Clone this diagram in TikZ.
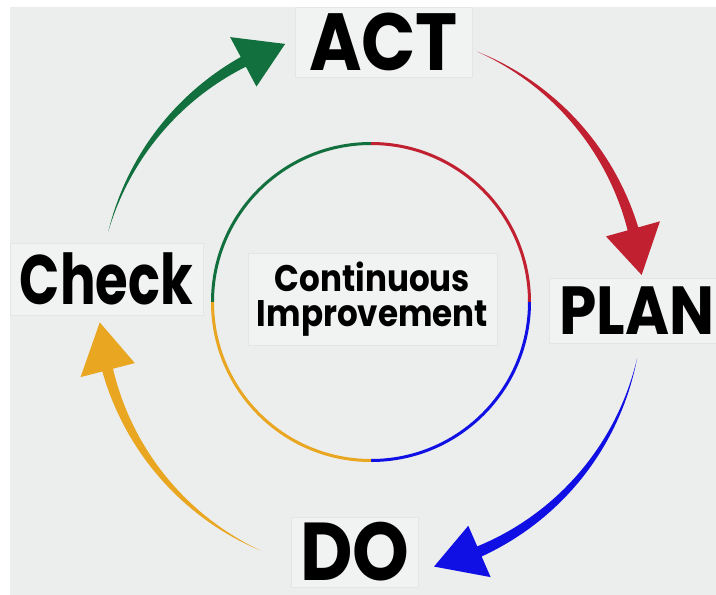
\documentclass[tikz,border=0pt]{standalone}
\usepackage{fontspec}
\newfontfamily\cyclefont[FakeStretch=0.88]{Poppins}
\newfontfamily\narrowfont[FakeStretch=0.755]{Poppins}

\definecolor{bgGrey}{RGB}{236,237,237}
\definecolor{boxGrey}{RGB}{241,242,242}
\definecolor{boxLine}{RGB}{228,229,229}
\definecolor{actGreen}{RGB}{18,112,62}
\definecolor{planRed}{RGB}{192,32,48}
\definecolor{doBlue}{RGB}{16,16,228}
\definecolor{checkGold}{RGB}{233,166,32}

\tikzstyle{lS}=[fill=boxGrey,draw=boxLine,line width=0.6pt,inner sep=0pt,align=center,font=\cyclefont\bfseries]
\tikzstyle{rS}=[line width=3pt]

\begin{document}
\begin{tikzpicture}[x=1pt,y=1pt]
                % background, white band top and left
                \fill[white] (-371,-293) rectangle (345,302);
                \fill[bgGrey] (-361,-293) rectangle (345,295);
                \useasboundingbox (-371,-293) rectangle (345,302);

                % inner ring
                \draw[rS,actGreen] (180:158.5) arc[start angle=180,end angle=90,radius=158.5];
                \draw[rS,planRed] (90:158.5) arc[start angle=90,end angle=0,radius=158.5];
                \draw[rS,doBlue] (0:158.5) arc[start angle=0,end angle=-90,radius=158.5];
                \draw[rS,checkGold] (-90:158.5) arc[start angle=-90,end angle=-180,radius=158.5];

                % outer tapered arrows: colour/start/head base/tip
                \foreach \c/\s/\b/\t in {actGreen/165/118/108.4, planRed/67/15.6/5.7, doBlue/-12/-66.5/-76.6, checkGold/246/194.5/184.3}{
                    \fill[\c] plot[domain=\s:\b,samples=40] ({(272+5.5*(\s-\x)/(\s-\b))*cos(\x)},{(272+5.5*(\s-\x)/(\s-\b))*sin(\x)})
                        -- ({300*cos(\b)},{300*sin(\b)}) -- ({272*cos(\t)},{272*sin(\t)}) -- ({244*cos(\b)},{244*sin(\b)})
                        -- plot[domain=\b:\s,samples=40] ({(272-5.5*(\s-\x)/(\s-\b))*cos(\x)},{(272-5.5*(\s-\x)/(\s-\b))*sin(\x)}) -- cycle;
                }

                % labels
                \draw (12.5,260) node[lS,minimum width=177,minimum height=70,font=\cyclefont\bfseries\fontsize{81}{81}\selectfont] (act) {ACT};
                \draw (-264.5,23) node[lS,minimum width=193,minimum height=72,font=\narrowfont\bfseries\fontsize{70}{70}\selectfont] (check) {Check};
                \draw (266,-9) node[lS,minimum width=176,minimum height=65,font=\cyclefont\bfseries\fontsize{68}{68}\selectfont] (plan) {PLAN};
                \draw (-16,-250) node[lS,minimum width=127,minimum height=70,font=\cyclefont\bfseries\fontsize{82}{82}\selectfont] (do) {DO};
                \draw (1.5,3) node[lS,minimum width=249,minimum height=92,font=\cyclefont\bfseries\fontsize{37}{35}\selectfont] (ci) {Continuous\\Improvement};
        \end{tikzpicture}
\end{document}
